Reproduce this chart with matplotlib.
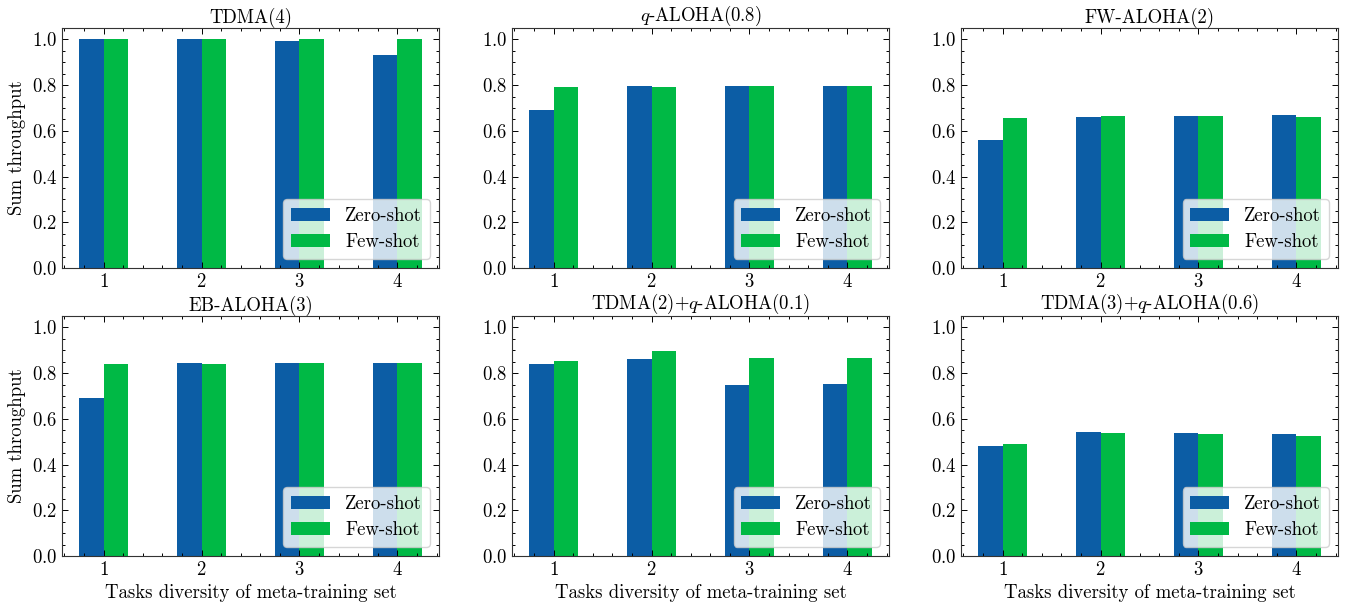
import matplotlib
matplotlib.use('Agg')
import matplotlib.pyplot as plt
from matplotlib.ticker import AutoMinorLocator, MultipleLocator
import numpy as np

plt.rcParams['font.family'] = 'cmr10'
plt.rcParams['mathtext.fontset'] = 'cm'
plt.rcParams['axes.formatter.use_mathtext'] = True
plt.rcParams['font.size'] = 13.5
plt.rcParams['axes.linewidth'] = 0.8
plt.rcParams['axes.edgecolor'] = '#333333'

diversity = [1, 2, 3, 4]

titles = ['TDMA(4)', r'$q$-ALOHA(0.8)', 'FW-ALOHA(2)',
          'EB-ALOHA(3)', r'TDMA(2)+$q$-ALOHA(0.1)', r'TDMA(3)+$q$-ALOHA(0.6)']

zero_shot = [
    [1.0, 1.0, 0.995, 0.93],
    [0.693, 0.798, 0.798, 0.798],
    [0.56, 0.662, 0.667, 0.671],
    [0.693, 0.846, 0.846, 0.846],
    [0.838, 0.864, 0.75, 0.754],
    [0.482, 0.544, 0.539, 0.535],
]

few_shot = [
    [1.0, 1.0, 1.0, 1.0],
    [0.794, 0.794, 0.798, 0.798],
    [0.658, 0.667, 0.667, 0.662],
    [0.838, 0.842, 0.846, 0.846],
    [0.851, 0.895, 0.868, 0.868],
    [0.491, 0.539, 0.535, 0.526],
]

blue = '#0C5DA5'
green = '#00B945'
width = 0.25

fig = plt.figure(figsize=(13.47, 6.08), dpi=100)

W, H = 1347.0, 608.0
lefts = [62, 512, 961]
tops = [28, 316]
ax_w, ax_h = 377, 240

x = np.array(diversity)
for i in range(6):
    r, c = divmod(i, 3)
    ax = fig.add_axes([lefts[c] / W, 1 - (tops[r] + ax_h) / H, ax_w / W, ax_h / H])
    ax.bar(x - width / 2, zero_shot[i], width, color=blue, label='Zero-shot')
    ax.bar(x + width / 2, few_shot[i], width, color=green, label='Few-shot')
    ax.set_ylim(0, 1.05)
    ax.set_xticks(diversity)
    ax.yaxis.set_major_locator(MultipleLocator(0.2))
    ax.xaxis.set_minor_locator(AutoMinorLocator(5))
    ax.yaxis.set_minor_locator(AutoMinorLocator(4))
    ax.tick_params(which='both', direction='in', top=True, right=True, width=0.7)
    ax.tick_params(which='major', length=4)
    ax.tick_params(which='minor', length=2)
    ax.set_title(titles[i], fontsize=13.5, pad=4)
    if c == 0:
        ax.set_ylabel('Sum throughput')
    if r == 1:
        ax.set_xlabel('Tasks diversity of meta-training set')
    leg = ax.legend(loc='lower right', fancybox=True, framealpha=0.8,
                    handlelength=2.1, handleheight=0.7, fontsize=13.5,
                    borderpad=0.4, labelspacing=0.45, handletextpad=0.8,
                    borderaxespad=0.5)
    leg.get_frame().set_edgecolor('#cccccc')

plt.savefig('out.png', dpi=100)
plt.close()
